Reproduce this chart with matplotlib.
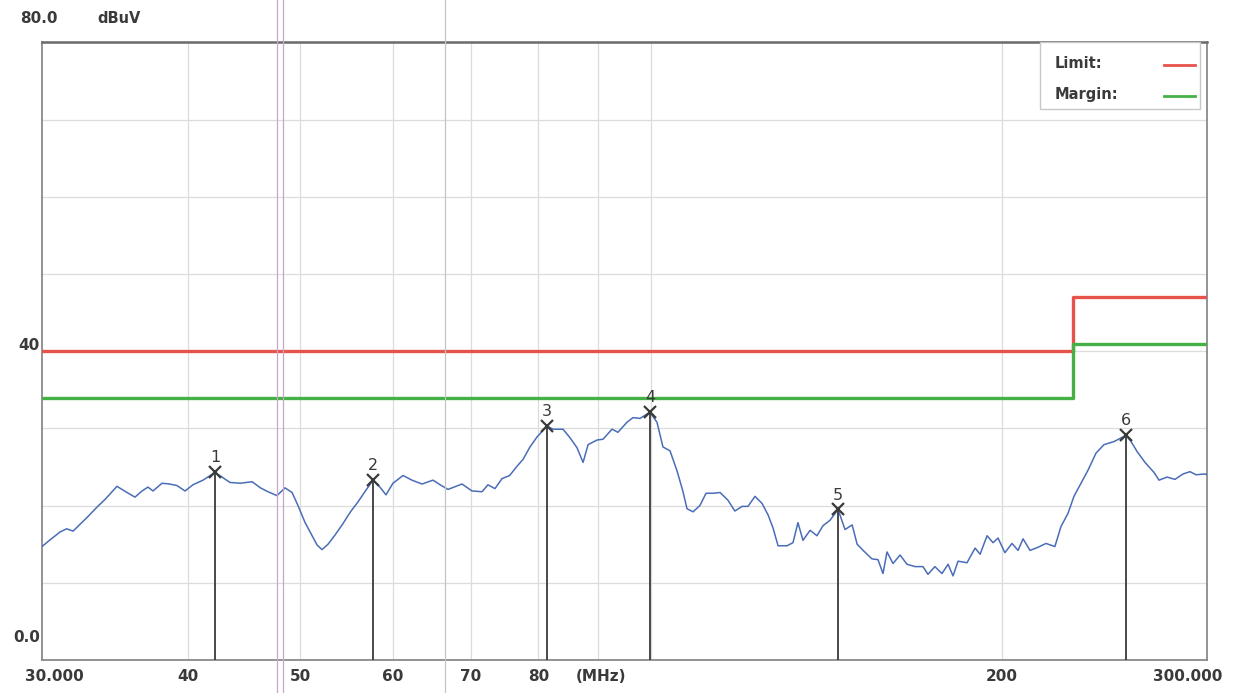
import matplotlib
matplotlib.use("Agg")
import matplotlib.pyplot as plt
from matplotlib.lines import Line2D
from matplotlib.patches import Rectangle

plt.rcParams["font.family"] = ["DejaVu Sans"]

# scan trace (MHz, dBuV)
freq_mhz = [
    30.0, 30.5, 31.1, 31.5, 31.9, 32.3, 32.86, 33.44, 33.98, 34.45,
    34.79, 35.49, 36.05, 36.56, 36.99, 37.36, 38.03, 38.6, 39.17, 39.8,
    40.43, 41.24, 42.23, 42.82, 43.5, 44.4, 45.44, 46.2, 46.89, 47.73,
    48.5, 49.18, 49.76, 50.46, 51.16, 51.67, 52.18, 52.8, 53.54, 54.29,
    55.2, 56.03, 57.03, 57.71, 58.5, 59.21, 60.03, 61.24, 62.33, 63.58,
    64.97, 65.9, 66.93, 68.81, 70.18, 71.59, 72.43, 73.44, 74.47, 75.6,
    76.71, 77.64, 78.7, 79.81, 81.4, 82.36, 84.01, 85.18, 86.37, 87.41,
    88.28, 89.86, 90.92, 92.56, 93.65, 95.33, 96.47, 97.82, 99.77, 101.16,
    102.36, 103.8, 105.25, 106.5, 107.34, 108.63, 110.1, 111.46, 113.01, 114.6,
    116.39, 118.0, 119.67, 121.09, 122.78, 124.49, 125.99, 127.24, 128.51, 130.81,
    132.35, 133.67, 134.99, 136.9, 138.78, 140.45, 142.4, 144.69, 146.7, 148.77,
    150.25, 152.03, 154.71, 156.57, 158.13, 159.38, 161.29, 163.54, 165.82, 168.5,
    171.13, 172.83, 175.2, 177.68, 179.82, 181.6, 183.41, 186.69, 189.7, 191.57,
    194.24, 196.54, 198.5, 201.2, 204.05, 206.51, 208.56, 211.46, 214.8, 218.23,
    222.1, 224.8, 227.94, 230.63, 233.84, 237.15, 240.9, 244.74, 249.63, 255.63,
    258.18, 261.3, 265.4, 270.17, 272.86, 277.25, 281.6, 286.11, 290.07, 293.58,
    298.8, 300.0,
]
level_dbuv = [
    14.7, 15.6, 16.6, 17.0, 16.7, 17.5, 18.6, 19.8, 20.8, 21.8,
    22.5, 21.7, 21.1, 21.9, 22.4, 21.9, 22.9, 22.8, 22.6, 21.9,
    22.7, 23.3, 24.3, 23.7, 23.0, 22.9, 23.1, 22.3, 21.8, 21.3,
    22.3, 21.7, 20.0, 17.8, 16.1, 14.9, 14.3, 15.0, 16.2, 17.5,
    19.2, 20.5, 22.2, 23.3, 22.4, 21.4, 22.9, 23.9, 23.3, 22.8,
    23.3, 22.7, 22.1, 22.8, 21.9, 21.8, 22.7, 22.2, 23.5, 23.9,
    25.1, 26.0, 27.6, 28.9, 30.3, 29.9, 29.9, 28.8, 27.5, 25.6,
    27.9, 28.5, 28.6, 29.9, 29.5, 30.8, 31.4, 31.3, 32.1, 30.8,
    27.6, 27.1, 24.5, 21.8, 19.6, 19.2, 20.0, 21.6, 21.6, 21.7,
    20.7, 19.3, 19.9, 19.9, 21.2, 20.3, 18.8, 17.1, 14.8, 14.8,
    15.2, 17.8, 15.5, 16.8, 16.1, 17.4, 18.1, 19.5, 16.9, 17.5,
    15.0, 14.2, 13.1, 13.0, 11.2, 14.0, 12.5, 13.6, 12.4, 12.1,
    12.1, 11.1, 12.1, 11.2, 12.4, 10.9, 12.8, 12.6, 14.5, 13.7,
    16.1, 15.2, 15.8, 13.9, 15.1, 14.2, 15.7, 14.2, 14.6, 15.1,
    14.7, 17.3, 19.0, 21.2, 22.9, 24.6, 26.8, 27.9, 28.3, 29.1,
    28.3, 27.0, 25.6, 24.3, 23.3, 23.7, 23.4, 24.1, 24.4, 24.0,
    24.1, 24.0,
]

# limit / margin step lines
limit_freq = [30.0, 230.0, 230.0, 300.0]
limit_dbuv = [40.0, 40.0, 47.0, 47.0]
margin_dbuv = [34.0, 34.0, 41.0, 41.0]

# peak markers
marker_ids = ["1", "2", "3", "4", "5", "6"]
marker_freq = [42.23, 57.71, 81.4, 99.77, 144.69, 255.63]
marker_dbuv = [24.3, 23.3, 30.3, 32.1, 19.5, 29.1]

x_ticks = [40, 50, 60, 70, 80, 90, 100, 200]
x_labels = [("30.000", 30.0), ("40", 40), ("50", 50), ("60", 60), ("70", 70),
            ("80", 80), ("(MHz)", 90), ("200", 200), ("300.000", 300.0)]

TEXT = "#3a3a3a"
W, H = 1233, 693

fig = plt.figure(figsize=(W / 100, H / 100), dpi=100)
ax = fig.add_axes([42 / W, 1 - 660 / H, 1165 / W, 617.5 / H])

ax.set_xscale("log")
ax.set_xlim(30, 300)
ax.set_ylim(0, 80)
ax.set_xticks(x_ticks)
ax.set_xticks([], minor=True)
ax.set_yticks(range(0, 81, 10))
ax.set_xticklabels([])
ax.set_yticklabels([])
ax.tick_params(length=0, which="both")
ax.grid(True, color="#dcdcdc", lw=0.9)
ax.set_axisbelow(True)
for side, sp in ax.spines.items():
    sp.set_color("#8a8a8a")
    sp.set_linewidth(1.3)
ax.spines["top"].set_color("#6a6a6a")
ax.spines["top"].set_linewidth(1.8)

ax.plot(limit_freq, limit_dbuv, color="#e5534b", lw=2.4, zorder=3)
ax.plot(limit_freq, margin_dbuv, color="#45b045", lw=2.4, zorder=3)
ax.plot(freq_mhz, level_dbuv, color="#4a6db8", lw=1.1, zorder=4)

for mid, f, v in zip(marker_ids, marker_freq, marker_dbuv):
    ax.vlines(f, 0, v, color="#3a3a3a", lw=1.3, zorder=5)
    ax.plot([f], [v], marker="x", ms=9, mew=1.6, color="#3a3a3a", zorder=6)
    ax.annotate(mid, (f, v), xytext=(0, 5), textcoords="offset points",
                ha="center", va="bottom", fontsize=11.5, color="#3a3a3a")

# y labels
ax.annotate("80.0", (0, 1), xycoords="axes fraction", xytext=(-16, 17),
            textcoords="offset points", ha="left", va="center",
            fontsize=11, fontweight="bold", color=TEXT)
ax.annotate("dBuV", (0, 1), xycoords="axes fraction", xytext=(40, 17),
            textcoords="offset points", ha="left", va="center",
            fontsize=10.5, fontweight="bold", color=TEXT)
ax.annotate("40", (30, 40), xycoords="data", xytext=(-2, 4),
            textcoords="offset points", ha="right", va="center",
            fontsize=11, fontweight="bold", color=TEXT)
ax.annotate("0.0", (30, 0), xycoords="data", xytext=(-1, 16),
            textcoords="offset points", ha="right", va="center",
            fontsize=11, fontweight="bold", color=TEXT)

# x labels
for lab, f in x_labels:
    dx = 0
    if lab == "30.000":
        dx = 9
    elif lab == "300.000":
        dx = -14
    elif lab == "(MHz)":
        dx = 2
    ax.annotate(lab, (f, 0), xycoords=("data", "axes fraction"),
                xytext=(dx, -12), textcoords="offset points",
                ha="center", va="center", fontsize=11,
                fontweight="bold", color=TEXT)

# legend box drawn by hand
ax.add_patch(Rectangle((0.857, 0.893), 0.137, 0.107, transform=ax.transAxes,
                       facecolor="white", edgecolor="#c8c8c8", lw=1.0, zorder=7))
ax.text(0.869, 0.966, "Limit:", transform=ax.transAxes, ha="left", va="center",
        fontsize=10.5, fontweight="bold", color=TEXT, zorder=8)
ax.text(0.869, 0.916, "Margin:", transform=ax.transAxes, ha="left", va="center",
        fontsize=10.5, fontweight="bold", color=TEXT, zorder=8)
ax.plot([0.963, 0.990], [0.963, 0.963], transform=ax.transAxes,
        color="#e5534b", lw=2.0, zorder=8)
ax.plot([0.963, 0.990], [0.913, 0.913], transform=ax.transAxes,
        color="#45b045", lw=2.0, zorder=8)

# faint fold lines visible across the scanned sheet
for xp, col in [(277, "#c9a6c9"), (283, "#c9a6c9"), (445, "#c4c4c4")]:
    fig.add_artist(Line2D([xp / W, xp / W], [0, 1], color=col, lw=0.9,
                          transform=fig.transFigure, zorder=0.5))

fig.savefig("out.png", dpi=100, facecolor="white")
